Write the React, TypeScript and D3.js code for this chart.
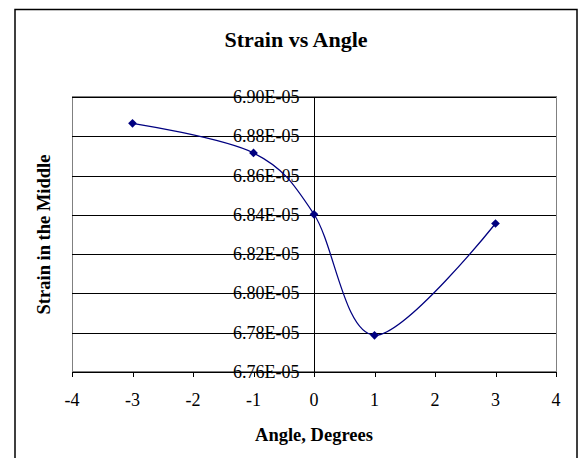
import React, { useEffect, useRef } from 'react';
import * as d3 from 'd3';

const angles = [-3, -1, 0, 1, 3];
const strain = [6.8866e-5, 6.8715e-5, 6.8403e-5, 6.7787e-5, 6.8356e-5];
const xTicks = [-4, -3, -2, -1, 0, 1, 2, 3, 4];
const yTicks = [6.76e-5, 6.78e-5, 6.8e-5, 6.82e-5, 6.84e-5, 6.86e-5, 6.88e-5, 6.9e-5];

const W = 581;
const H = 458;
const FONT = '"Liberation Serif", "Times New Roman", serif';

// Excel style 6.90E-05
const fmtExp = (v: number) => {
  const [m, e] = v.toExponential(2).split('e');
  const n = Math.abs(+e);
  return `${m}E${+e < 0 ? '-' : '+'}${n < 10 ? '0' + n : n}`;
};

export default function App() {
  const svgRef = useRef<SVGSVGElement>(null);

  useEffect(() => {
    const svg = d3.select(svgRef.current);
    svg.selectAll('*').remove();

    const plot = { left: 72, right: 556, top: 97, bottom: 372 };
    const x = d3.scaleLinear().domain([-4, 4]).range([plot.left, plot.right]);
    const y = d3.scaleLinear().domain([6.76e-5, 6.9e-5]).range([plot.bottom, plot.top]);
    const x0 = Math.round(x(0)) + 0.5;

    svg.append('rect').attr('width', W).attr('height', H).attr('fill', '#fff');

    // chart border
    svg.append('rect')
      .attr('x', 15).attr('y', 9.5).attr('width', 562).attr('height', H)
      .attr('fill', 'none').attr('stroke', '#000').attr('stroke-width', 1.5);

    // plot area
    svg.append('rect')
      .attr('x', plot.left + 0.5).attr('y', plot.top - 0.5)
      .attr('width', plot.right - plot.left).attr('height', plot.bottom - plot.top)
      .attr('fill', '#fff').attr('stroke', '#808080');

    // gridlines
    svg.append('g').selectAll('line')
      .data(yTicks.slice(1))
      .enter().append('line')
      .attr('x1', plot.left).attr('x2', plot.right)
      .attr('y1', d => Math.round(y(d)) + 0.5).attr('y2', d => Math.round(y(d)) + 0.5)
      .attr('stroke', '#000');

    // y axis at x = 0
    svg.append('line')
      .attr('x1', x0).attr('x2', x0).attr('y1', plot.top).attr('y2', plot.bottom)
      .attr('stroke', '#000');
    svg.append('g').selectAll('line')
      .data(yTicks)
      .enter().append('line')
      .attr('x1', x0 - 6).attr('x2', x0)
      .attr('y1', d => Math.round(y(d)) + 0.5).attr('y2', d => Math.round(y(d)) + 0.5)
      .attr('stroke', '#000');
    svg.append('g').selectAll('text')
      .data(yTicks)
      .enter().append('text')
      .attr('x', x0 - 15).attr('y', d => y(d) + 6)
      .attr('text-anchor', 'end')
      .style('font-family', FONT).style('font-size', '18px')
      .text(d => fmtExp(d));

    // x axis
    svg.append('line')
      .attr('x1', plot.left).attr('x2', plot.right + 1)
      .attr('y1', plot.bottom + 0.5).attr('y2', plot.bottom + 0.5)
      .attr('stroke', '#000');
    svg.append('g').selectAll('line')
      .data(xTicks)
      .enter().append('line')
      .attr('x1', d => Math.round(x(d)) + 0.5).attr('x2', d => Math.round(x(d)) + 0.5)
      .attr('y1', plot.bottom).attr('y2', plot.bottom + 5)
      .attr('stroke', '#000');
    svg.append('g').selectAll('text')
      .data(xTicks)
      .enter().append('text')
      .attr('x', d => x(d)).attr('y', 406)
      .attr('text-anchor', 'middle')
      .style('font-family', FONT).style('font-size', '18px')
      .text(d => d);

    // series
    const pts = angles.map((a, i) => [a, strain[i]] as [number, number]);
    const line = d3.line<[number, number]>()
      .x(d => x(d[0])).y(d => y(d[1]))
      .curve(d3.curveCatmullRom.alpha(0));
    svg.append('path').datum(pts)
      .attr('d', line).attr('fill', 'none')
      .attr('stroke', '#000080').attr('stroke-width', 1.25);

    const diamond = d3.symbol().type(d3.symbolSquare).size(38);
    svg.append('g').selectAll('path')
      .data(pts)
      .enter().append('path')
      .attr('d', diamond)
      .attr('transform', d => `translate(${x(d[0])},${y(d[1])}) rotate(45)`)
      .attr('fill', '#000080');

    // titles
    svg.append('text')
      .attr('x', 296).attr('y', 47).attr('text-anchor', 'middle')
      .style('font-family', FONT).style('font-size', '22px').style('font-weight', 'bold')
      .text('Strain vs Angle');
    svg.append('text')
      .attr('x', (plot.left + plot.right) / 2).attr('y', 441).attr('text-anchor', 'middle')
      .style('font-family', FONT).style('font-size', '18.5px').style('font-weight', 'bold')
      .text('Angle, Degrees');
    svg.append('text')
      .attr('transform', `translate(50,${(plot.top + plot.bottom) / 2}) rotate(-90)`)
      .attr('text-anchor', 'middle')
      .style('font-family', FONT).style('font-size', '18.5px').style('font-weight', 'bold')
      .text('Strain in the Middle');
  }, []);

  return (
    <svg
      ref={svgRef}
      width={W}
      height={H}
      style={{ position: 'absolute', left: 0, top: 0, display: 'block' }}
    />
  );
}
